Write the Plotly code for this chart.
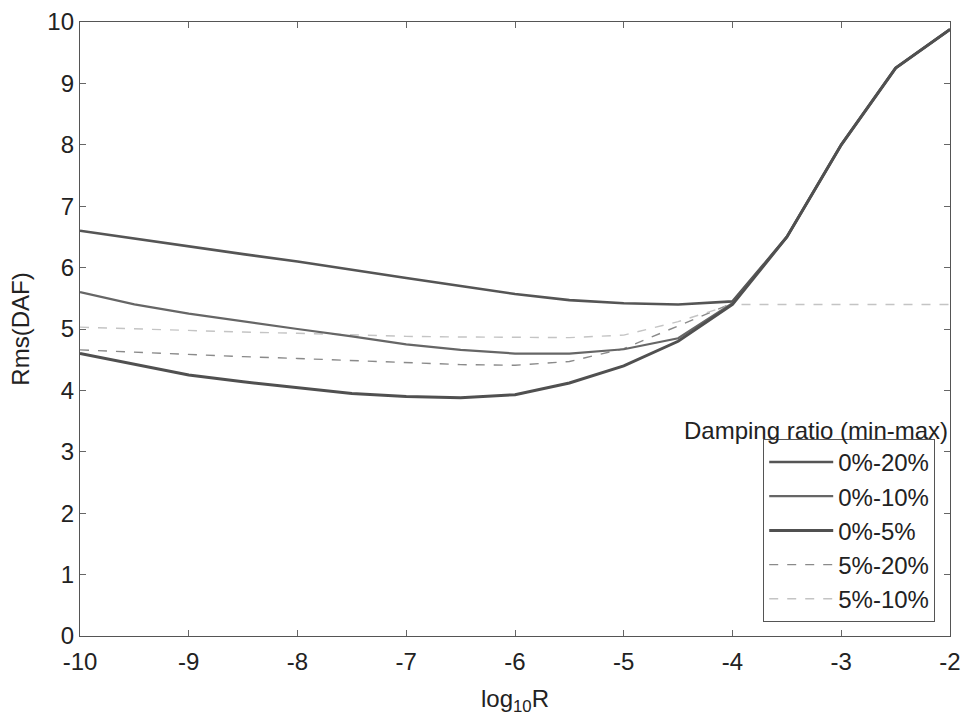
import plotly.graph_objects as go

x = [-10, -9.5, -9, -8.5, -8, -7.5, -7, -6.5, -6, -5.5, -5, -4.5, -4, -3.5, -3, -2.5, -2]
d0_20 = [6.60, 6.47, 6.35, 6.22, 6.10, 5.96, 5.83, 5.70, 5.57, 5.47, 5.42, 5.40, 5.45, 6.50, 8.00, 9.25, 9.88]
d0_10 = [5.60, 5.40, 5.25, 5.12, 5.00, 4.88, 4.75, 4.66, 4.60, 4.60, 4.67, 4.85, 5.42, 6.50, 8.00, 9.25, 9.88]
d0_5 = [4.60, 4.42, 4.25, 4.14, 4.04, 3.95, 3.90, 3.88, 3.93, 4.12, 4.40, 4.80, 5.40, 6.50, 8.00, 9.25, 9.88]
d5_20 = [4.66, 4.62, 4.58, 4.55, 4.52, 4.49, 4.45, 4.42, 4.41, 4.47, 4.68, 5.05, 5.42, 6.50, 8.00, 9.25, 9.88]
d5_10 = [5.03, 5.00, 4.97, 4.95, 4.93, 4.90, 4.88, 4.87, 4.86, 4.86, 4.90, 5.12, 5.40, 5.40, 5.40, 5.40, 5.40]

x_ticks = [-10, -9, -8, -7, -6, -5, -4, -3, -2]
x_ticklabels = ["-10", "-9", "-8", "-7", "-6", "-5", "-4", "-3", "-2"]
y_ticks = [0, 1, 2, 3, 4, 5, 6, 7, 8, 9, 10]

names = ["0%-20%", "0%-10%", "0%-5%", "5%-20%", "5%-10%"]
series = [d0_20, d0_10, d0_5, d5_20, d5_10]
colors = ["#555555", "#666666", "#505050", "#8a8a8a", "#c4c4c4"]
widths = [2.6, 2.2, 3.0, 1.4, 1.4]
dashes = ["solid", "solid", "solid", "dash", "dash"]

fig = go.Figure()
order = [3, 4, 0, 1, 2]
for i in order:
    fig.add_trace(go.Scatter(
        x=x, y=series[i], mode="lines", name=names[i],
        line=dict(color=colors[i], width=widths[i], dash=dashes[i]),
        legendgroup=names[i], legendrank=i + 1,
    ))

fnt = "Liberation Sans, Arial, sans-serif"
fig.update_layout(
    width=965, height=721,
    margin=dict(l=80, r=15, t=22, b=85),
    paper_bgcolor="white", plot_bgcolor="white",
    font=dict(family=fnt, size=24, color="#222222"),
    showlegend=True,
    legend=dict(
        x=0.983, xanchor="right", y=0.023, yanchor="bottom",
        bgcolor="white", bordercolor="#555555", borderwidth=1,
        font=dict(family=fnt, size=24, color="#222222"),
        tracegroupgap=0, itemwidth=64,
    ),
    annotations=[dict(
        text="Damping ratio (min-max)", xref="paper", yref="paper",
        x=1.0, y=0.334, xanchor="right", yanchor="middle", showarrow=False,
        font=dict(family=fnt, size=24, color="#222222"),
    )],
)
fig.update_xaxes(
    range=[-10, -2], tickvals=x_ticks, ticktext=x_ticklabels, automargin=False,
    ticks="inside", ticklen=6, tickcolor="#666666", mirror="ticks",
    showline=True, linecolor="#555555", linewidth=1.3, showgrid=False, zeroline=False,
    tickfont=dict(size=24), ticklabelstandoff=4,
    title=dict(text="log<sub>10</sub>R", font=dict(size=24), standoff=16),
)
fig.update_yaxes(
    range=[0, 10], tickvals=y_ticks, automargin=False,
    ticks="inside", ticklen=6, tickcolor="#666666", mirror="ticks",
    showline=True, linecolor="#555555", linewidth=1.3, showgrid=False, zeroline=False,
    tickfont=dict(size=24),
    title=dict(text="Rms(DAF)", font=dict(size=24), standoff=10),
)
fig.write_html("out.html")
